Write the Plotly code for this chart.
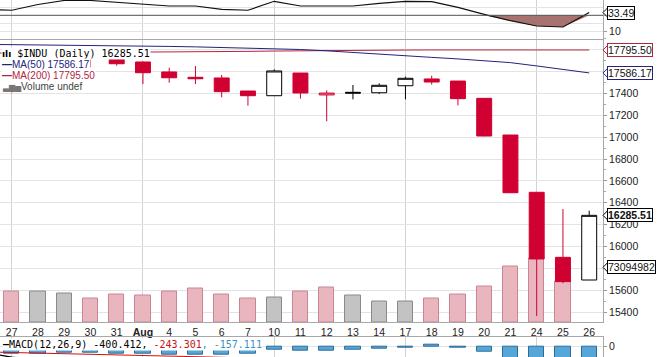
import plotly.graph_objects as go
import pandas as pd

# ---------------- data ----------------
dates = ["2015-07-24", "2015-07-27", "2015-07-28", "2015-07-29", "2015-07-30", "2015-07-31",
         "2015-08-03", "2015-08-04", "2015-08-05", "2015-08-06", "2015-08-07", "2015-08-10",
         "2015-08-11", "2015-08-12", "2015-08-13", "2015-08-14", "2015-08-17", "2015-08-18",
         "2015-08-19", "2015-08-20", "2015-08-21", "2015-08-24", "2015-08-25", "2015-08-26"]
tick_labels = ["24", "27", "28", "29", "30", "31", "<b>Aug</b>", "4", "5", "6", "7", "10", "11",
               "12", "13", "14", "17", "18", "19", "20", "21", "24", "25", "26"]

opens = [None, 17560, 17445, 17631, 17748, 17713, 17686, 17595, 17546, 17540, 17421, 17378,
         17585, 17385, 17400, 17405, 17469, 17531, 17512, 17354, 17019, 16496, 15902, 15695]
highs = [None, 17580, 17640, 17765, 17771, 17750, 17690, 17634, 17649, 17567, 17421, 17619,
         17585, 17427, 17476, 17491, 17552, 17561, 17512, 17354, 17019, 16496, 16343, 16328]
lows = [None, 17400, 17445, 17601, 17637, 17652, 17485, 17497, 17485, 17363, 17287, 17378,
        17351, 17144, 17345, 17394, 17345, 17479, 17290, 17008, 16490, 15366, 15665, 15695]
closes = [None, 17440, 17631, 17751, 17746, 17670, 17588, 17542, 17533, 17415, 17378, 17604,
          17403, 17402, 17408, 17473, 17537, 17503, 17351, 17010, 16492, 15887, 15680, 16285.51]

volume_m = [None, 41.6, 40.3, 38.9, 31.0, 37.6, 35.0, 41.6, 44.3, 37.6, 32.3, 33.6, 40.3, 46.9,
            35.0, 28.3, 28.3, 31.0, 37.6, 48.2, 73.8, 84.5, 53.6, None]
last_volume = 73094982

ma50 = [17847, 17845, 17843, 17840, 17837, 17835, 17832, 17828, 17824, 17819, 17814, 17808,
        17800, 17788, 17772, 17755, 17742, 17728, 17714, 17700, 17680, 17650, 17618, 17586.17]
ma200 = [17767, 17768, 17769, 17770, 17771, 17772, 17774, 17776, 17778, 17780, 17783, 17786,
         17789, 17791, 17793, 17794, 17795, 17796, 17797, 17797, 17797, 17797, 17796, 17795.50]

rsi = [37.5, 36.3, 43.5, 48.5, 48.5, 46.0, 43.75, 41.6, 41.6, 37.5, 36.3, 47.5, 41.6, 41.6,
       41.6, 45.0, 47.5, 47.0, 40.0, 31.25, 23.25, 16.6, 15.4, 33.49]

macd_hist = [None, -70, -65, -55, -60, -65, -70, -75, -75, -78, -65, -33, -37, -40, -27, -20,
             -6, 24, -6, -50, -120, -160, -175, -157.111]
macd_signal = [-52, -58, -64, -71, -78, -86, -93, -100, -106, -112, -118, -122, -126, -130,
               -133, -136, -137, -135, -136, -146, -170, -205, -228, -243.301]
macd_line = [-60, -105, -129, -126, -138, -151, -163, -175, -181, -190, -183, -155, -163, -170,
             -160, -156, -143, -111, -142, -196, -290, -365, -403, -400.412]

price_ticks = list(range(15400, 17801, 200))
rsi_ticks = [10, 30, 50]

# ---------------- styling ----------------
W, H = 672, 357
R_MARGIN = 69
RED = "#d00032"
BLACK = "#000000"
PINK, PINK_EDGE = "#e9b6bf", "#c98593"
GRAY, GRAY_EDGE = "#c3c3c3", "#8a8a8a"
NAVY = "#23237a"
CRIMSON = "#b0263f"
GRID = "#e3e3e3"
VGRID = "#d2d2d2"
AXIS = "#a8a8a8"


def pyp(px):
    return 1 - px / H


n = len(dates)
idx = list(range(n))
mondays = [i for i, d in enumerate(pd.to_datetime(dates)) if d.weekday() == 0]


def ref_close(i):
    if i > 0 and closes[i - 1] is not None:
        return closes[i - 1]
    return opens[i]


valid = [i for i in idx if closes[i] is not None]
down = {i: closes[i] < ref_close(i) for i in valid}

fig = go.Figure()

# volume (base axis of price panel)
vol_idx = [i for i in idx if volume_m[i] is not None]
fig.add_trace(go.Bar(
    x=vol_idx, y=[volume_m[i] * 1e6 for i in vol_idx], width=0.58,
    marker=dict(color=[PINK if down.get(i, False) else GRAY for i in vol_idx],
                line=dict(color=[PINK_EDGE if down.get(i, False) else GRAY_EDGE for i in vol_idx], width=1)),
    xaxis="x", yaxis="y", hoverinfo="skip", showlegend=False))

# candles, coloured vs previous close, hollow when close > open
for col, grp in ((RED, [i for i in valid if down[i]]), (BLACK, [i for i in valid if not down[i]])):
    fig.add_trace(go.Candlestick(
        x=grp, open=[opens[i] for i in grp], high=[highs[i] for i in grp],
        low=[lows[i] for i in grp], close=[closes[i] for i in grp],
        increasing=dict(line=dict(color=col, width=1), fillcolor="white"),
        decreasing=dict(line=dict(color=col, width=1), fillcolor=col),
        whiskerwidth=0, xaxis="x", yaxis="y4", showlegend=False))

fig.add_trace(go.Scatter(x=idx, y=ma200, mode="lines", line=dict(color=CRIMSON, width=1),
                         xaxis="x", yaxis="y4", showlegend=False))
fig.add_trace(go.Scatter(x=idx, y=ma50, mode="lines", line=dict(color=NAVY, width=1),
                         xaxis="x", yaxis="y4", showlegend=False))

# RSI panel
RSI_LEVEL = 30
fig.add_trace(go.Scatter(x=idx, y=[RSI_LEVEL] * n, mode="lines", line=dict(width=0),
                         xaxis="x2", yaxis="y3", showlegend=False, hoverinfo="skip"))
fig.add_trace(go.Scatter(x=idx, y=[min(v, RSI_LEVEL) for v in rsi], mode="lines",
                         line=dict(width=0), fill="tonexty", fillcolor="#a87270",
                         xaxis="x2", yaxis="y3", showlegend=False, hoverinfo="skip"))
fig.add_trace(go.Scatter(x=idx, y=rsi, mode="lines", line=dict(color="#111", width=1.2),
                         xaxis="x2", yaxis="y3", showlegend=False))

# MACD panel
h_idx = [i for i in idx if macd_hist[i] is not None]
fig.add_trace(go.Bar(x=h_idx, y=[macd_hist[i] for i in h_idx], width=0.58,
                     marker=dict(color="#57a6d8", line=dict(color="#2b6d99", width=1)),
                     xaxis="x3", yaxis="y5", showlegend=False))
fig.add_trace(go.Scatter(x=idx, y=macd_signal, mode="lines", line=dict(color="#d01010", width=1),
                         xaxis="x3", yaxis="y5", showlegend=False))
fig.add_trace(go.Scatter(x=idx, y=macd_line, mode="lines", line=dict(color="#000", width=1.2),
                         xaxis="x3", yaxis="y5", showlegend=False))

# ---------------- axes ----------------
X0, STEP = 11.7, 26.25
plot_w = W - R_MARGIN
x_range = [1 - X0 / STEP, 1 + (plot_w - X0) / STEP]

RSI_BOTTOM_PX, PRICE_BOTTOM_PX, MACD_TOP_PX = 38.5, 322.3, 336.7
price_px_per_pt = 0.1095
price_ref_px, price_ref = 93.3, 17400
price_range = [price_ref - (PRICE_BOTTOM_PX - price_ref_px) / price_px_per_pt,
               price_ref + (price_ref_px - RSI_BOTTOM_PX) / price_px_per_pt]
vol_px_per_unit = (PRICE_BOTTOM_PX - 267.3) / last_volume
vol_range = [0, (PRICE_BOTTOM_PX - RSI_BOTTOM_PX) / vol_px_per_unit]
rsi_px_per_pt, rsi30_px = 0.8, 15.3
rsi_range = [RSI_LEVEL - (RSI_BOTTOM_PX - rsi30_px) / rsi_px_per_pt, RSI_LEVEL + rsi30_px / rsi_px_per_pt]
macd_px_per_pt, macd0_px = 0.1, 346.7
macd_range = [-(H - macd0_px) / macd_px_per_pt, (macd0_px - MACD_TOP_PX) / macd_px_per_pt]


def price_px(v):
    return price_ref_px + (price_ref - v) * price_px_per_pt


# price tick labels hidden where a value tag sits on top of them (as in the reference)
tag_px = [price_px(ma200[-1]), price_px(ma50[-1]), PRICE_BOTTOM_PX - last_volume * vol_px_per_unit]
price_text = ["" if min(abs(price_px(t) - p) for p in tag_px) < 7 else str(t) for t in price_ticks]

minor_grid = dict(tickmode="array", tickvals=mondays, showgrid=True, gridcolor=VGRID, gridwidth=1, ticks="")
common_x = dict(range=x_range, domain=[0, 1], showgrid=False, zeroline=False, minor=minor_grid,
                rangeslider=dict(visible=False), fixedrange=True)

fig.update_layout(
    width=W, height=H, margin=dict(l=0, r=R_MARGIN, t=0, b=0, pad=0),
    paper_bgcolor="white", plot_bgcolor="white", showlegend=False,
    boxgap=0.43, boxgroupgap=0, bargap=0,
    font=dict(family="Liberation Sans, Arial, sans-serif", size=10.5, color="#222"),
    xaxis=dict(**common_x, anchor="y", tickmode="array", tickvals=idx, ticktext=tick_labels,
               ticks="", showline=True, linecolor=AXIS, linewidth=1, tickfont=dict(size=10.5, color="#222")),
    xaxis2=dict(**common_x, anchor="y3", matches="x", showticklabels=False, showline=True,
                linecolor=AXIS, ticks=""),
    xaxis3=dict(**common_x, anchor="y5", matches="x", showticklabels=False, showline=True,
                linecolor=AXIS, side="top", ticks=""),
    yaxis=dict(domain=[pyp(PRICE_BOTTOM_PX), pyp(RSI_BOTTOM_PX)], range=vol_range, anchor="x",
               visible=False, fixedrange=True),
    yaxis4=dict(overlaying="y", side="right", anchor="x", range=price_range,
                tickmode="array", tickvals=price_ticks, ticktext=price_text,
                showgrid=True, gridcolor=GRID, zeroline=False, showline=True, linecolor=AXIS,
                ticks="outside", ticklen=3, tickcolor="#999", tickfont=dict(size=10.5, color="#222"),
                minor=dict(dtick=100, tick0=0, ticks="outside", ticklen=2, tickcolor="#aaa", showgrid=False),
                fixedrange=True),
    yaxis3=dict(domain=[pyp(RSI_BOTTOM_PX), 1], range=rsi_range, anchor="x2", side="right",
                tickmode="array", tickvals=[10, 30], ticktext=["10", ""], showgrid=True,
                gridcolor=GRID, zeroline=False, showline=True, linecolor=AXIS, ticks="outside",
                ticklen=3, tickcolor="#999", tickfont=dict(size=10.5, color="#222"),
                minor=dict(tickmode="array", tickvals=[20, 40], showgrid=True, gridcolor=GRID, ticks=""),
                fixedrange=True),
    yaxis5=dict(domain=[0, pyp(MACD_TOP_PX)], range=macd_range, anchor="x3", side="right",
                tickmode="array", tickvals=[0], ticktext=["0"], showgrid=True, gridcolor=GRID,
                zeroline=False, showline=True, linecolor=AXIS, ticks="outside", ticklen=3,
                tickcolor="#999", tickfont=dict(size=10.5, color="#222"), fixedrange=True),
)

# RSI 30 reference line
fig.add_shape(type="line", xref="x2 domain", x0=0, x1=1, yref="y3", y0=RSI_LEVEL, y1=RSI_LEVEL,
              line=dict(color="#555", width=1), layer="above")

# RSI "50" label that sits just above the visible top edge
fig.add_annotation(xref="paper", yref="y3", x=1, y=rsi_ticks[-1], xanchor="left", yanchor="middle",
                   xshift=5, text=str(rsi_ticks[-1]), showarrow=False,
                   font=dict(size=10.5, color="#222"))

# ---------------- legend texts (white boxes over the plot) ----------------
MONO = "DejaVu Sans Mono"
SANS = "Liberation Sans"
leg = [
    (53.3, '<span style="font-family:DejaVu Sans;font-size:9px"><b>\u0131l\u0131</b></span> $INDU (Daily) 16285.51', MONO, 10, "#000"),
    (64.0, '<b>\u2014</b>MA(50) 17586.17', SANS, 10, NAVY),
    (75.3, '<b>\u2014</b>MA(200) 17795.50', SANS, 10, CRIMSON),
    (86.3, '<span style="color:#777;font-size:8px">\u2583\u2586\u2585</span>Volume undef', SANS, 10, "#444"),
]
for ypx, txt, fam, sz, colr in leg:
    fig.add_annotation(xref="paper", yref="paper", x=0, y=pyp(ypx), xanchor="left", yanchor="middle",
                       xshift=1, text=txt, showarrow=False, bgcolor="white", borderpad=0,
                       font=dict(family=fam, size=sz, color=colr))

fig.add_annotation(xref="paper", yref="paper", x=0, y=pyp(344.3), xanchor="left", yanchor="middle",
                   xshift=2, showarrow=False, bgcolor="white", borderpad=0,
                   font=dict(family=MONO, size=10, color="#000"),
                   text='<b>\u2014</b>MACD(12,26,9) -400.412, <span style="color:#c41414">-243.301</span>'
                        '<span style="color:#3d8fc4">, -157.111</span>')

# ---------------- value tags on the right (box + pointer) ----------------
tags = [
    ("y3", rsi[-1], "33.49", "#000", False),
    ("y4", ma200[-1], "17795.50", CRIMSON, False),
    ("y4", ma50[-1], "17586.17", NAVY, False),
    ("y4", closes[-1], "16285.51", "#000", True),
    ("y", last_volume, str(last_volume), "#000", False),
]
for yref, yv, txt, bcol, bold in tags:
    fig.add_shape(type="path", xref="paper", xsizemode="pixel", xanchor=1,
                  yref=yref, ysizemode="pixel", yanchor=yv,
                  path="M 0,0 L 5,5 L 5,-5 Z", fillcolor="white",
                  line=dict(color=bcol, width=1), layer="above")
    fig.add_annotation(xref="paper", yref=yref, x=1, y=yv, xanchor="left", yanchor="middle", xshift=4,
                       text=f"<b>{txt}</b>" if bold else txt, showarrow=False, bgcolor="white",
                       bordercolor=bcol, borderwidth=1, borderpad=0,
                       font=dict(size=10.5, color="#111"))

fig.write_html("out.html", include_plotlyjs=True, config={"displayModeBar": False},
               post_script="document.body.style.margin='0';document.body.style.overflow='hidden';")
